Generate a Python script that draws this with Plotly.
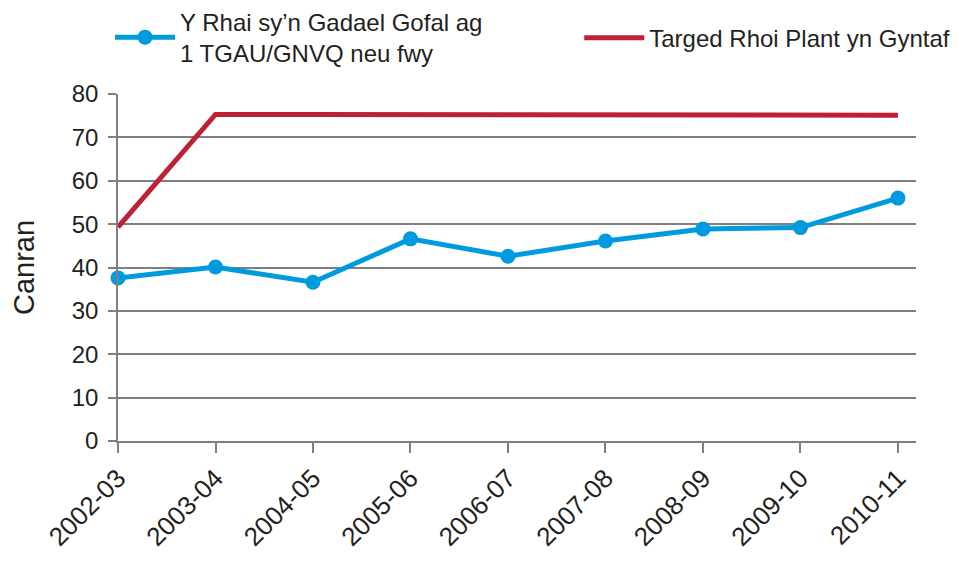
import plotly.graph_objects as go

categories = ["2002-03", "2003-04", "2004-05", "2005-06", "2006-07",
              "2007-08", "2008-09", "2009-10", "2010-11"]
care_leavers = [37.6, 40.1, 36.6, 46.6, 42.6, 46.1, 48.9, 49.2, 56.0]
target = [49.3, 75.3, 75.3, 75.3, 75.2, 75.2, 75.2, 75.1, 75.1]
y_ticks = [0, 10, 20, 30, 40, 50, 60, 70, 80]

blue_name = "Y Rhai sy\u2019n Gadael Gofal ag<br>1 TGAU/GNVQ neu fwy"
red_name = "Targed Rhoi Plant yn Gyntaf"

FONT = "Arial, Liberation Sans, sans-serif"
TXT = "#231f20"
GRID = "#7f7f7f"

xi = list(range(len(categories)))

fig = go.Figure()
fig.add_trace(go.Scatter(
    x=xi, y=care_leavers, name=blue_name, mode="lines+markers",
    line=dict(color="#009ADE", width=5),
    marker=dict(color="#009ADE", size=15),
    legend="legend", cliponaxis=False,
))
fig.add_trace(go.Scatter(
    x=xi, y=target, name=red_name, mode="lines",
    line=dict(color="#BE2035", width=5),
    legend="legend2", cliponaxis=False,
))

fig.update_layout(
    width=966, height=562,
    margin=dict(l=110, r=58, t=86, b=129, autoexpand=False),
    paper_bgcolor="white", plot_bgcolor="white",
    font=dict(family=FONT, color=TXT, size=22),
    showlegend=True,
    legend=dict(x=-0.01, xanchor="left", y=1.163, yanchor="middle",
                font=dict(size=24, family=FONT, color=TXT),
                bgcolor="rgba(0,0,0,0)", itemwidth=60),
    legend2=dict(x=0.578, xanchor="left", y=1.161, yanchor="middle",
                 font=dict(size=24, family=FONT, color=TXT),
                 bgcolor="rgba(0,0,0,0)", itemwidth=60),
)

fig.update_xaxes(
    range=[0, 8.185], tickmode="array", tickvals=xi, ticktext=categories,
    tickangle=-45, ticks="outside", ticklen=10, tickcolor=GRID, tickwidth=1.5,
    showline=True, linecolor=GRID, linewidth=1.5, showgrid=False,
    zeroline=False, automargin=False,
    tickfont=dict(size=26, family=FONT, color=TXT),
)
fig.update_yaxes(
    range=[0, 80], tickmode="array", tickvals=y_ticks,
    ticks="outside", ticklen=8, tickcolor=GRID, tickwidth=1.5,
    showline=True, linecolor=GRID, linewidth=1.5,
    showgrid=True, gridcolor=GRID, gridwidth=1.5, zeroline=False,
    automargin=False, ticklabelstandoff=5,
    tickfont=dict(size=24, family=FONT, color=TXT),
    title=dict(text="Canran", font=dict(size=29, family=FONT, color=TXT), standoff=32),
)

fig.write_html("out.html")
